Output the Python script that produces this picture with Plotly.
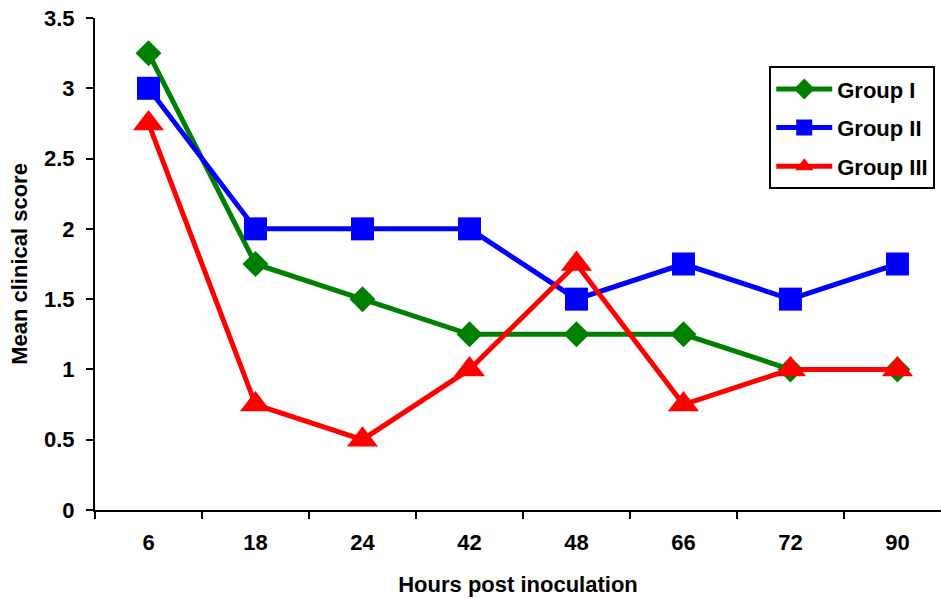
import plotly.graph_objects as go

hours = ["6", "18", "24", "42", "48", "66", "72", "90"]
group1 = [3.25, 1.75, 1.5, 1.25, 1.25, 1.25, 1.0, 1.0]
group2 = [3.0, 2.0, 2.0, 2.0, 1.5, 1.75, 1.5, 1.75]
group3 = [2.75, 0.75, 0.5, 1.0, 1.75, 0.75, 1.0, 1.0]
y_ticks = [0, 0.5, 1, 1.5, 2, 2.5, 3, 3.5]
y_labels = ["0", "0.5", "1", "1.5", "2", "2.5", "3", "3.5"]

FONT = "Arial, Liberation Sans, sans-serif"
FS = 22

fig = go.Figure()
fig.add_trace(go.Scatter(x=hours, y=group1, name="Group I", mode="lines+markers",
                         legendgroup="g1",
                         line=dict(color="#008000", width=5),
                         marker=dict(symbol="diamond", size=20, color="#008000")))
fig.add_trace(go.Scatter(x=hours, y=group2, name="Group II", mode="lines+markers",
                         legendgroup="g2",
                         line=dict(color="#0000FF", width=5),
                         marker=dict(symbol="square", size=23, color="#0000FF")))
fig.add_trace(go.Scatter(x=hours, y=group3, name="Group III", mode="lines+markers",
                         legendgroup="g3",
                         line=dict(color="#FF0000", width=5),
                         marker=dict(symbol="triangle-up", size=27, color="#FF0000")))

fig.update_layout(
    width=941, height=598,
    margin=dict(l=95, r=0, t=18, b=88),
    paper_bgcolor="white", plot_bgcolor="white",
    font=dict(family=FONT, size=FS, color="black"),
    showlegend=True,
    legend=dict(x=0.797, y=0.902, xanchor="left", yanchor="top",
                bordercolor="black", borderwidth=2, bgcolor="white",
                font=dict(family=FONT, size=FS, color="black", weight="bold"),
                traceorder="grouped", tracegroupgap=7, itemwidth=56),
    xaxis=dict(type="category", range=[-0.5, 7.407], showline=True, linecolor="black",
               linewidth=2, ticks="outside", tickson="boundaries", ticklen=7,
               tickwidth=2, tickcolor="black", showgrid=False, zeroline=False,
               ticklabelstandoff=12,
               tickfont=dict(family=FONT, size=FS, weight="bold"),
               title=dict(text="Hours post inoculation", standoff=22,
                          font=dict(family=FONT, size=FS, weight="bold"))),
    yaxis=dict(range=[0, 3.5], tickvals=y_ticks, ticktext=y_labels, showline=True,
               linecolor="black", linewidth=2, ticks="outside", ticklen=7, tickwidth=2,
               tickcolor="black", showgrid=False, zeroline=False,
               ticklabelstandoff=7,
               tickfont=dict(family=FONT, size=FS, weight="bold"),
               title=dict(text="Mean clinical score", standoff=10,
                          font=dict(family=FONT, size=FS, weight="bold"))),
)

fig.write_html("out.html")
